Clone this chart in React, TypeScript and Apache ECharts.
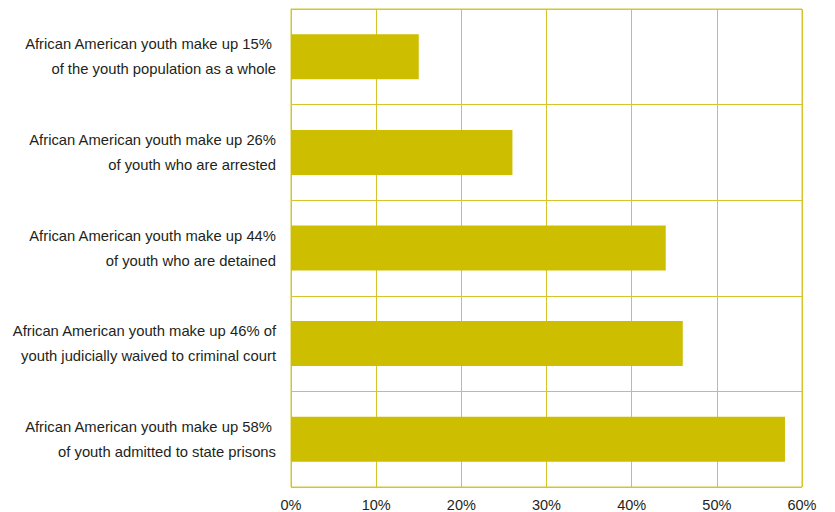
import React, { useEffect, useRef } from "react";
import * as echarts from "echarts";

const categories = [
  "African American youth make up 15% \nof the youth population as a whole",
  "African American youth make up 26%\nof youth who are arrested",
  "African American youth make up 44%\nof youth who are detained",
  "African American youth make up 46% of\nyouth judicially waived to criminal court",
  "African American youth make up 58% \nof youth admitted to state prisons",
];
const values = [15, 26, 44, 46, 58];
const xTicks = [0, 10, 20, 30, 40, 50, 60];

const BAR = "#CDBE00";
const LINE = "#D4C52C";
const TEXT = "#231F20";
const FONT = "'Liberation Sans', Arial, sans-serif";

export default function App() {
  const ref = useRef<HTMLDivElement>(null);
  useEffect(() => {
    if (!ref.current) return;
    const chart = echarts.init(ref.current, null, { renderer: "svg" });
    chart.setOption({
      animation: false,
      backgroundColor: "#ffffff",
      grid: {
        left: 291,
        right: 33,
        top: 9,
        bottom: 25,
        show: true,
        borderColor: LINE,
        borderWidth: 1,
        containLabel: false,
        outerBoundsMode: "none",
      },
      xAxis: {
        type: "value",
        min: xTicks[0],
        max: xTicks[xTicks.length - 1],
        interval: 10,
        axisLine: { show: false },
        axisTick: { show: false },
        splitLine: { show: true, lineStyle: { color: LINE, width: 1 } },
        axisLabel: {
          formatter: (v: number) => v + "%",
          color: TEXT,
          fontFamily: FONT,
          fontSize: 14.5,
          margin: 10,
        },
      },
      yAxis: {
        type: "category",
        data: categories,
        inverse: true,
        axisLine: { show: true, lineStyle: { color: LINE, width: 1 } },
        axisTick: { show: false },
        splitLine: { show: true, lineStyle: { color: LINE, width: 1 } },
        axisLabel: {
          color: TEXT,
          fontFamily: FONT,
          fontSize: 14.8,
          lineHeight: 25,
          align: "right",
          margin: 15,
        },
      },
      series: [
        {
          type: "bar",
          data: values,
          barWidth: 45,
          itemStyle: { color: BAR },
        },
      ],
    });
    return () => chart.dispose();
  }, []);
  return (
    <div
      ref={ref}
      style={{ position: "fixed", left: 0, top: 0, width: 835, height: 512 }}
    />
  );
}
